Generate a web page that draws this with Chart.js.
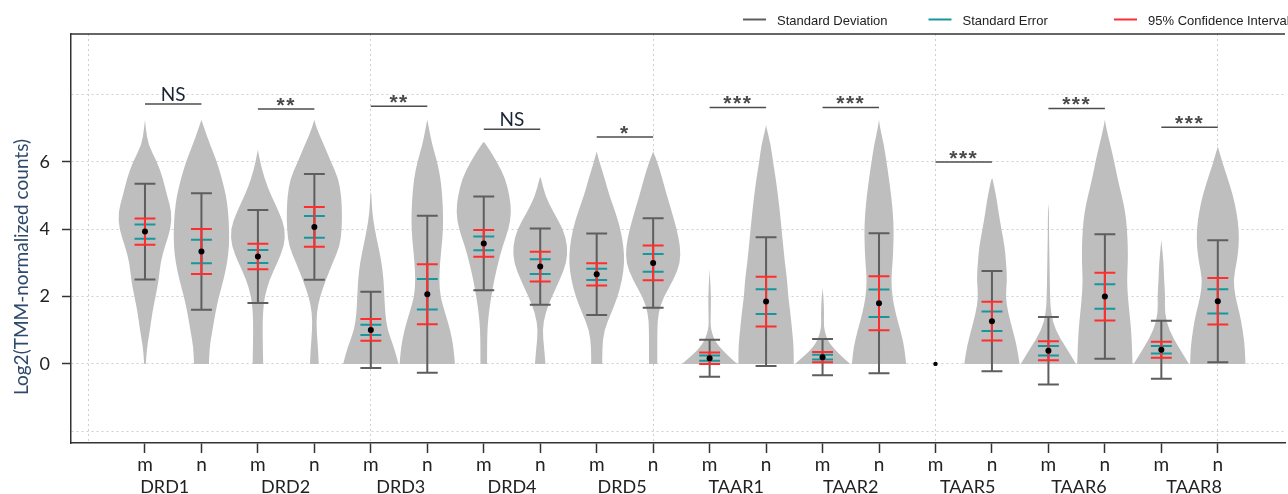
<!DOCTYPE html>
<html>
<head>
<meta charset="utf-8">
<script src="https://cdn.jsdelivr.net/npm/chart.js@4.4.1/dist/chart.umd.min.js"></script>
<style>
  html, body { margin: 0; padding: 0; background: #fff; }
  #wrap { width: 1288px; height: 494px; }
</style>
</head>
<body>
<div id="wrap"><canvas id="mainChart"></canvas></div>
<script>
const genes = [`DRD1`, `DRD2`, `DRD3`, `DRD4`, `DRD5`, `TAAR1`, `TAAR2`, `TAAR5`, `TAAR6`, `TAAR8`]
const geneLabelAt = [0.35, 2.49, 4.53, 6.5, 8.45, 10.47, 12.5, 14.57, 16.54, 18.58]
const groups = [`m`, `n`]

// one entry per violin: DRD1 m, DRD1 n, DRD2 m, DRD2 n, ...
const means = [3.93, 3.34, 3.19, 4.07, 1.01, 2.07, 3.58, 2.89, 2.66, 3.0, 0.17, 1.85, 0.2, 1.8, 0, 1.27, 0.39, 2.0, 0.42, 1.86]
const sdHalf = [1.42, 1.73, 1.38, 1.57, 1.13, 2.33, 1.39, 1.13, 1.21, 1.33, 0.55, 1.91, 0.54, 2.08, 0, 1.49, 1.0, 1.85, 0.86, 1.81]
const seHalf = [0.21, 0.35, 0.19, 0.32, 0.155, 0.455, 0.205, 0.22, 0.165, 0.265, 0.08, 0.37, 0.07, 0.41, 0, 0.29, 0.14, 0.365, 0.11, 0.36]
const ciHalf = [0.39, 0.67, 0.38, 0.59, 0.32, 0.89, 0.4, 0.445, 0.33, 0.515, 0.17, 0.74, 0.15, 0.8, 0, 0.575, 0.285, 0.71, 0.24, 0.69]

// violin outline: highest value, and relative half-width every 0.5 from 0 up
const violinTop = [7.25, 7.25, 6.36, 7.25, 5.12, 7.25, 6.6, 5.56, 6.31, 6.31, 2.81, 7.1, 2.25, 7.25, 0, 5.51, 4.77, 7.25, 3.68, 6.46]
const violinWidth = [
  [0.03, 0.07, 0.18, 0.26, 0.38, 0.5, 0.56, 0.72, 0.93, 0.97, 0.8, 0.65, 0.44, 0.12, 0.03],
  [0.27, 0.29, 0.4, 0.5, 0.63, 0.8, 0.93, 1.0, 1.0, 0.97, 0.89, 0.74, 0.56, 0.32, 0.1],
  [0.19, 0.18, 0.17, 0.18, 0.24, 0.42, 0.7, 0.95, 0.99, 0.77, 0.48, 0.24, 0.08],
  [0.16, 0.13, 0.08, 0.08, 0.2, 0.42, 0.66, 0.92, 0.99, 1.0, 0.97, 0.87, 0.6, 0.35, 0.08],
  [1.0, 0.84, 0.6, 0.52, 0.49, 0.46, 0.39, 0.27, 0.14, 0.05, 0.02],
  [1.0, 0.95, 0.83, 0.65, 0.47, 0.43, 0.46, 0.52, 0.57, 0.57, 0.54, 0.48, 0.36, 0.18, 0.06],
  [0.12, 0.12, 0.13, 0.18, 0.27, 0.38, 0.52, 0.68, 0.9, 1.0, 0.93, 0.78, 0.48, 0.1],
  [0.19, 0.14, 0.08, 0.18, 0.42, 0.71, 0.95, 0.99, 0.83, 0.48, 0.18, 0.03],
  [0.2, 0.2, 0.27, 0.52, 0.76, 0.92, 1.0, 0.97, 0.86, 0.68, 0.46, 0.29, 0.1],
  [0.15, 0.15, 0.15, 0.18, 0.38, 0.74, 0.98, 0.98, 0.85, 0.68, 0.5, 0.33, 0.15],
  [1.0, 0.3, 0.03, 0.04, 0.05, 0.02],
  [1.0, 1.0, 0.94, 0.88, 0.8, 0.76, 0.68, 0.62, 0.56, 0.5, 0.43, 0.35, 0.25, 0.17, 0.02],
  [1.0, 0.3, 0.04, 0.06, 0.03],
  [0.98, 0.92, 0.77, 0.6, 0.48, 0.44, 0.49, 0.52, 0.53, 0.5, 0.44, 0.36, 0.27, 0.18, 0.04],
  [],
  [1.0, 0.91, 0.75, 0.59, 0.49, 0.55, 0.51, 0.46, 0.34, 0.24, 0.15, 0.02],
  [1.0, 0.63, 0.25, 0.09, 0.06, 0.05, 0.04, 0.03, 0.02, 0.02],
  [1.0, 0.98, 0.95, 0.89, 0.83, 0.8, 0.83, 0.83, 0.8, 0.74, 0.61, 0.46, 0.34, 0.2, 0.05],
  [1.0, 0.62, 0.28, 0.12, 0.14, 0.1, 0.08, 0.02],
  [1.0, 0.98, 0.9, 0.79, 0.63, 0.56, 0.68, 0.76, 0.76, 0.68, 0.55, 0.36, 0.16],
]

const sigText = [`NS`, `**`, `**`, `NS`, `*`, `***`, `***`, `***`, `***`, `***`]
const sigLevel = [7.72, 7.57, 7.65, 6.97, 6.74, 7.62, 7.62, 6.0, 7.59, 7.03]

const legendLabels = [`Standard Deviation`, `Standard Error`, `95% Confidence Interval`]
const yTickValues = [-2, 0, 2, 4, 6, 8]
const yTickLabels = [``, `0`, `2`, `4`, `6`, ``]

const colSD = `#5e5e5e`
const colSE = `#17979d`
const colCI = `#ff2e2e`
const VIOLIN_HALF = 0.49
const CAP = 0.185
const tickFont = `Lato, "Noto Sans", sans-serif`

function barData(half) {
  const pts = []
  means.forEach((m, i) => {
    if (!half[i]) return
    const hi = m + half[i]
    const lo = m - half[i]
    pts.push(
      {x: i - CAP, y: hi}, {x: i + CAP, y: hi}, {x: i, y: null},
      {x: i, y: hi}, {x: i, y: lo}, {x: i, y: null},
      {x: i - CAP, y: lo}, {x: i + CAP, y: lo}, {x: i, y: null}
    )
  })
  return pts
}

function barSet(label, half, color) {
  return {
    label: label,
    data: barData(half),
    showLine: true,
    spanGaps: false,
    borderColor: color,
    borderWidth: 2,
    pointRadius: 0,
    pointHoverRadius: 0,
  }
}

function smoothTo(ctx, pts) {
  for (let k = 1; k < pts.length - 1; k++) {
    const mx = (pts[k].x + pts[k + 1].x) / 2
    const my = (pts[k].y + pts[k + 1].y) / 2
    ctx.quadraticCurveTo(pts[k].x, pts[k].y, mx, my)
  }
  const last = pts[pts.length - 1]
  ctx.lineTo(last.x, last.y)
}

const violinPlugin = {
  id: `violins`,
  beforeDatasetsDraw(chart) {
    const ctx = chart.ctx
    const xs = chart.scales.x
    const ys = chart.scales.y
    ctx.save()
    ctx.fillStyle = `#bebebe`
    violinTop.forEach((top, i) => {
      if (!top) return
      const right = []
      const left = []
      violinWidth[i].forEach((w, k) => {
        const v = k * 0.5
        if (v >= top) return
        const py = ys.getPixelForValue(v)
        right.push({x: xs.getPixelForValue(i + w * VIOLIN_HALF), y: py})
        left.push({x: xs.getPixelForValue(i - w * VIOLIN_HALF), y: py})
      })
      const tip = {x: xs.getPixelForValue(i), y: ys.getPixelForValue(top)}
      ctx.beginPath()
      ctx.moveTo(left[0].x, left[0].y)
      ctx.lineTo(right[0].x, right[0].y)
      smoothTo(ctx, right.concat([tip]))
      smoothTo(ctx, [tip].concat(left.slice().reverse()))
      ctx.closePath()
      ctx.fill()
    })
    ctx.restore()
  },
}

const decorPlugin = {
  id: `decor`,
  afterDraw(chart) {
    const ctx = chart.ctx
    const xs = chart.scales.x
    const ys = chart.scales.y
    const area = chart.chartArea
    ctx.save()

    // top frame line
    ctx.strokeStyle = `#333`
    ctx.lineWidth = 1.5
    ctx.beginPath()
    ctx.moveTo(area.left, area.top)
    ctx.lineTo(area.right, area.top)
    ctx.stroke()

    // significance marks
    genes.forEach((g, gi) => {
      const x1 = xs.getPixelForValue(gi * 2)
      const x2 = xs.getPixelForValue(gi * 2 + 1)
      const ly = ys.getPixelForValue(sigLevel[gi])
      ctx.strokeStyle = `#4d4d4d`
      ctx.lineWidth = 1.5
      ctx.beginPath()
      ctx.moveTo(x1, ly)
      ctx.lineTo(x2, ly)
      ctx.stroke()
      ctx.textAlign = `center`
      ctx.textBaseline = `alphabetic`
      if (sigText[gi] === `NS`) {
        ctx.font = `19px ${tickFont}`
        ctx.fillStyle = `#1a2533`
        ctx.fillText(sigText[gi], (x1 + x2) / 2, ly - 3.5)
      } else {
        ctx.font = `bold 21px "Liberation Sans", Arial, sans-serif`
        ctx.fillStyle = `#4a4a4a`
        ctx.letterSpacing = `1.5px`
        ctx.fillText(sigText[gi], (x1 + x2) / 2, ly + 3)
        ctx.letterSpacing = `0px`
      }
    })

    // legend
    const legendColors = [colSD, colSE, colCI]
    ctx.font = `13px "Liberation Sans", Arial, sans-serif`
    ctx.textAlign = `left`
    ctx.textBaseline = `middle`
    legendLabels.forEach((label, i) => {
      const lx = 743 + i * 185.5
      ctx.strokeStyle = legendColors[i]
      ctx.lineWidth = 2
      ctx.beginPath()
      ctx.moveTo(lx, 19.5)
      ctx.lineTo(lx + 23, 19.5)
      ctx.stroke()
      ctx.fillStyle = `#222`
      ctx.fillText(label, lx + 34, 21)
    })

    // y axis title
    ctx.translate(22, 267)
    ctx.rotate(-Math.PI / 2)
    ctx.textAlign = `center`
    ctx.font = `19px ${tickFont}`
    ctx.fillStyle = `#2e4a6b`
    ctx.fillText(`Log2(TMM-normalized counts)`, 0, 0)
    ctx.restore()
  },
}

const gridDash = [2, 3]

new Chart(document.getElementById(`mainChart`), {
  type: `scatter`,
  data: {
    datasets: [
      {
        label: `Mean`,
        data: means.map((m, i) => ({x: i, y: m})),
        pointRadius: (c) => (c.dataIndex === 14 ? 2.2 : 3),
        pointBackgroundColor: `#000`,
        pointBorderWidth: 0,
        pointHoverRadius: 3,
      },
      barSet(legendLabels[2], ciHalf, colCI),
      barSet(legendLabels[1], seHalf, colSE),
      barSet(legendLabels[0], sdHalf, colSD),
    ],
  },
  options: {
    responsive: true,
    maintainAspectRatio: false,
    animation: false,
    devicePixelRatio: 1,
    layout: {padding: {top: 34, left: 0, right: 0, bottom: 0}},
    plugins: {
      legend: {display: false},
      tooltip: {enabled: false},
    },
    scales: {
      x: {
        type: `linear`,
        position: `bottom`,
        min: -1.31,
        max: 20.19,
        z: 1,
        weight: 0,
        afterBuildTicks: (axis) => {
          const t = []
          for (let v = -1; v <= 20; v++) t.push({value: v})
          axis.ticks = t
        },
        afterFit: (axis) => {
          axis.height = 30
        },
        grid: {
          color: (c) => (c.tick && (c.tick.value + 1) % 5 === 0 ? `#cfcfcf` : `transparent`),
          lineWidth: 1,
          tickLength: 10,
          tickWidth: 1.5,
          tickColor: (c) => (c.tick && c.tick.value >= 0 && c.tick.value < 20 ? `#333` : `transparent`),
        },
        border: {display: true, color: `#333`, width: 1.5, dash: gridDash},
        ticks: {
          autoSkip: false,
          maxRotation: 0,
          padding: 0,
          color: `#222`,
          font: {family: tickFont, size: 19},
          callback: (v) => (v >= 0 && v < 20 ? groups[v % 2] : ``),
        },
      },
      x2: {
        type: `linear`,
        position: `bottom`,
        min: -1.31,
        max: 20.19,
        weight: 1,
        afterBuildTicks: (axis) => {
          axis.ticks = geneLabelAt.map((v) => ({value: v}))
        },
        afterFit: (axis) => {
          axis.height = 21
        },
        grid: {display: false, drawTicks: false},
        border: {display: false},
        ticks: {
          autoSkip: false,
          maxRotation: 0,
          padding: 3,
          color: `#222`,
          font: {family: tickFont, size: 18},
          callback: (v, idx) => genes[idx],
        },
      },
      y: {
        type: `linear`,
        min: -2.35,
        max: 9.8,
        z: 1,
        afterBuildTicks: (axis) => {
          axis.ticks = yTickValues.map((v) => ({value: v}))
        },
        afterFit: (axis) => {
          axis.width = 71
        },
        grid: {
          color: `#cfcfcf`,
          lineWidth: 1,
          tickLength: 9,
          tickWidth: 1.5,
          tickColor: (c) => (c.tick && c.tick.value >= 0 && c.tick.value <= 6 ? `#333` : `transparent`),
        },
        border: {display: true, color: `#333`, width: 1.5, dash: gridDash},
        ticks: {
          padding: 12,
          color: `#222`,
          font: {family: tickFont, size: 18},
          callback: (v) => {
            const k = yTickValues.indexOf(v)
            return k >= 0 ? yTickLabels[k] : ``
          },
        },
      },
    },
  },
  plugins: [violinPlugin, decorPlugin],
})
</script>
</body>
</html>
